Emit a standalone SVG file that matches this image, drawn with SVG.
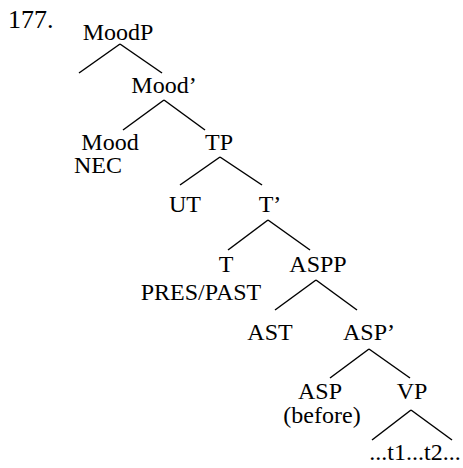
<svg xmlns="http://www.w3.org/2000/svg" width="463" height="468" viewBox="0 0 463 468">
<style>
text{font-family:"Liberation Serif","Times New Roman",serif;font-size:24px;fill:#000;text-anchor:middle}
.num{text-anchor:start;font-size:26px}
line{stroke:#000;stroke-width:1.5}
</style>
<rect width="463" height="468" fill="#fff"/>
<text class="num" x="8" y="28">177.</text>
<g id="connectors">
<line x1="120" y1="44" x2="79" y2="73"/>
<line x1="120" y1="44" x2="162" y2="73"/>
<line x1="164" y1="100" x2="123" y2="130"/>
<line x1="164" y1="100" x2="205" y2="130"/>
<line x1="220" y1="157" x2="180" y2="185"/>
<line x1="220" y1="157" x2="262" y2="185"/>
<line x1="268" y1="220" x2="228" y2="250"/>
<line x1="268" y1="220" x2="310" y2="250"/>
<line x1="316" y1="280" x2="275" y2="310"/>
<line x1="316" y1="280" x2="357" y2="310"/>
<line x1="369" y1="349" x2="330" y2="378"/>
<line x1="369" y1="349" x2="410" y2="378"/>
<line x1="411" y1="410" x2="372" y2="440"/>
<line x1="411" y1="410" x2="452" y2="440"/>
</g>
<g id="MoodP"><text x="118" y="40">MoodP</text></g>
<g id="MoodBar"><text x="164" y="93">Mood’</text></g>
<g id="Mood"><text x="110" y="150">Mood</text><text x="98" y="173">NEC</text></g>
<g id="TP"><text x="219" y="150">TP</text></g>
<g id="UT"><text x="185" y="212">UT</text></g>
<g id="TBar"><text x="270" y="212">T’</text></g>
<g id="T"><text x="226" y="272">T</text><text x="201" y="300">PRES/PAST</text></g>
<g id="ASPP"><text x="318" y="272">ASPP</text></g>
<g id="AST"><text x="270" y="340">AST</text></g>
<g id="ASPBar"><text x="369" y="340">ASP’</text></g>
<g id="ASP"><text x="320" y="399">ASP</text><text x="322" y="423">(before)</text></g>
<g id="VP"><text x="412" y="399">VP</text></g>
<g id="terminal"><text x="415" y="460">...t1...t2...</text></g>
</svg>
